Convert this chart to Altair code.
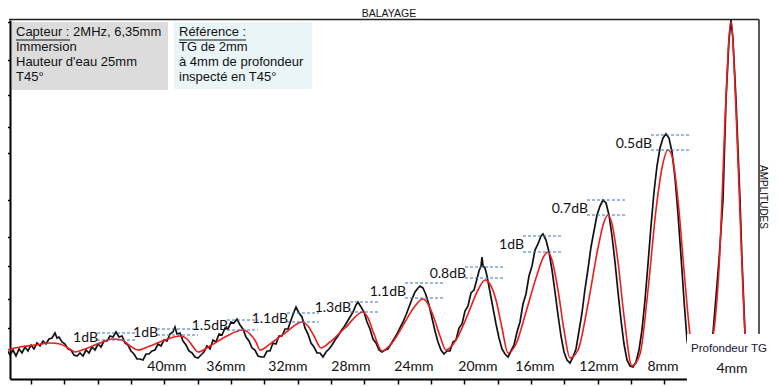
import altair as alt
import pandas as pd

# ---------------- data ----------------
# scan position (arbitrary units along the sweep) , amplitude (arbitrary units)
black_trace = [
    (7, 29), (10, 24), (13, 29), (16, 23), (19, 30), (22, 26), (25, 32), (28, 28), (31, 34), (34, 30),
    (37, 36), (40, 33), (43, 38), (46, 35), (49, 40), (52, 41), (55, 46), (57, 41), (59, 42), (62, 37),
    (65, 35), (68, 30), (71, 29), (74, 24), (77, 23), (80, 26), (83, 23), (86, 29), (89, 26), (92, 32),
    (95, 29), (98, 35), (101, 32), (104, 38), (107, 38), (110, 43), (113, 42), (116, 47), (119, 42), (122, 43),
    (125, 36), (128, 34), (131, 28), (134, 25), (137, 20), (140, 20), (143, 19), (146, 25), (149, 25), (152, 28),
    (155, 29), (158, 35), (161, 33), (164, 39), (167, 38), (170, 45), (173, 47), (175, 52), (177, 45), (180, 46),
    (183, 38), (186, 34), (189, 28), (192, 26), (195, 22), (198, 21), (201, 24), (204, 27), (207, 33), (210, 30),
    (213, 39), (216, 37), (219, 45), (222, 44), (225, 51), (228, 50), (231, 57), (234, 56), (237, 60), (240, 54),
    (243, 50), (246, 42), (249, 38), (252, 31), (255, 29), (258, 23), (261, 22), (264, 22), (267, 28), (270, 28),
    (273, 36), (276, 35), (279, 43), (282, 43), (285, 50), (288, 50), (291, 59), (294, 67), (296, 72), (299, 66),
    (302, 62), (305, 51), (308, 45), (311, 36), (314, 32), (317, 26), (320, 26), (323, 22), (326, 27), (329, 30),
    (332, 34), (335, 39), (338, 43), (341, 48), (344, 52), (347, 57), (350, 62), (353, 67), (356, 74), (358, 77),
    (361, 72), (364, 67), (367, 57), (370, 50), (373, 40), (376, 36), (379, 29), (382, 27), (385, 29), (388, 30),
    (391, 35), (394, 40), (397, 45), (400, 51), (403, 57), (406, 64), (409, 72), (412, 80), (415, 87), (418, 91),
    (420, 93), (423, 91), (426, 84), (429, 74), (432, 61), (435, 48), (438, 37), (441, 29), (444, 25), (447, 28),
    (450, 28), (453, 37), (456, 39), (459, 51), (462, 55), (465, 68), (468, 73), (471, 86), (474, 89), (477, 100),
    (479, 108), (481, 113), (482, 122), (483, 113), (485, 111), (487, 103), (490, 87), (493, 71), (496, 55), (499, 41),
    (502, 30), (505, 25), (508, 22), (511, 28), (514, 34), (517, 47), (520, 57), (523, 75), (526, 85), (529, 103),
    (532, 113), (535, 129), (538, 135), (541, 143), (543, 145), (546, 139), (549, 127), (552, 109), (555, 87), (558, 64),
    (561, 43), (564, 27), (567, 19), (570, 16), (573, 22), (576, 30), (579, 48), (582, 66), (585, 90), (588, 110),
    (591, 132), (594, 148), (597, 164), (600, 173), (603, 179), (606, 176), (609, 164), (612, 143), (615, 117), (618, 87),
    (621, 59), (624, 35), (627, 19), (630, 13), (633, 12), (636, 17), (639, 29), (642, 49), (645, 79), (648, 115),
    (651, 153), (654, 187), (657, 213), (660, 231), (663, 241), (666, 245), (669, 241), (672, 227), (675, 201), (678, 165),
    (681, 123), (684, 79), (687, 39), (690, 21), (695, 9), (700, 7), (705, 17), (710, 34), (713, 46), (719, 119),
    (723, 179), (726, 279), (729, 339), (731, 359), (733, 339), (736, 279), (740, 179), (742, 119), (745, 46), (748, 21),
    (752, 7),
]

red_trace = [
    (7, 29), (20, 32), (35, 34), (50, 36), (60, 35), (68, 31), (75, 27), (85, 30), (100, 36), (112, 40),
    (122, 39), (130, 33), (138, 29), (150, 33), (165, 39), (180, 43), (188, 39), (194, 31), (198, 27), (210, 33),
    (225, 42), (243, 49), (250, 45), (256, 37), (260, 29), (270, 35), (285, 46), (302, 57), (308, 53), (314, 43),
    (321, 31), (330, 37), (345, 51), (363, 67), (368, 61), (374, 45), (382, 28), (392, 36), (405, 57), (415, 73),
    (423, 80), (428, 75), (434, 61), (440, 43), (446, 29), (456, 39), (468, 65), (478, 89), (485, 99), (490, 95),
    (496, 79), (502, 51), (508, 26), (516, 35), (526, 67), (536, 101), (544, 123), (548, 127), (552, 119), (558, 89),
    (564, 49), (570, 21), (578, 29), (588, 75), (598, 131), (604, 157), (608, 164), (612, 155), (618, 117), (624, 63),
    (632, 13), (640, 25), (648, 89), (656, 169), (662, 211), (668, 229), (672, 223), (678, 179), (684, 109), (690, 44),
    (695, 13), (700, 7), (706, 17), (711, 34), (714, 49), (720, 129), (725, 259), (731, 357), (736, 269), (741, 139),
    (745, 46), (748, 21), (752, 7),
]

# dB gap annotations: label, dashed-line start, dashed-line end, black peak, red peak
db_labels = ["1dB", "1dB", "1.5dB", "1.1dB", "1.3dB", "1.1dB", "0.8dB", "1dB", "0.7dB", "0.5dB"]
db_x1 = [97, 157, 227, 287, 350, 405, 465, 523, 587, 651]
db_x2 = [137, 198, 258, 319, 380, 443, 503, 563, 626, 690]
db_black = [46, 50, 59, 66, 77, 96, 112, 143, 179, 244]
db_red = [39, 44, 49, 57, 67, 81, 101, 127, 164, 229]

depth_labels = ["40mm", "36mm", "32mm", "28mm", "24mm", "20mm", "16mm", "12mm", "8mm"]
depth_pos = [167, 226, 288, 351, 414, 478, 535, 599, 663]
depth_amp = 12

x_ticks = [31, 64, 98, 131, 164, 198, 231, 264, 298, 331, 364, 398, 431, 464, 498, 531, 564, 598, 631, 664]
y_ticks = [357, 319, 284, 252, 226, 179, 142, 113, 80, 51]

capteur_lines = ["Capteur : 2MHz, 6,35mm", "Immersion", "Hauteur d'eau 25mm", "T45°"]
reference_lines = ["Référence :", "TG de 2mm", "à 4mm de profondeur", "inspecté en T45°"]

# ---------------- layout ----------------
W, H = 749, 359
ARIAL = "Liberation Sans"
CAL = "Lato"

black_df = pd.DataFrame(black_trace, columns=["pos", "amp"])
red_df = pd.DataFrame(red_trace, columns=["pos", "amp"])
dash_df = pd.DataFrame({
    "x1": db_x1 + db_x1,
    "x2": db_x2 + db_x2,
    "amp": db_black + db_red,
})
lab_df = pd.DataFrame({
    "x1": db_x1,
    "amp": [(b + r) / 2 - 1 for b, r in zip(db_black, db_red)],
    "label": db_labels,
})
depth_df = pd.DataFrame({"pos": depth_pos, "amp": [depth_amp] * len(depth_pos), "label": depth_labels})

xs = alt.Scale(domain=[10, 759], nice=False, zero=False)
ys = alt.Scale(domain=[0, 359], nice=False, zero=False)
x_axis = alt.Axis(values=x_ticks, labels=False, ticks=True, tickSize=5, title=None, grid=False)
y_axis = alt.Axis(values=y_ticks, labels=False, ticks=True, tickSize=3, title=None, grid=False)


def X(field):
    return alt.X(field, type="quantitative", scale=xs, axis=x_axis)


def Y(field):
    return alt.Y(field, type="quantitative", scale=ys, axis=y_axis)


one = pd.DataFrame({"k": [0]})

black = alt.Chart(black_df).mark_line(color="#111111", strokeWidth=1.7).encode(
    x=X("pos"), y=Y("amp"), order="pos:Q")
red = alt.Chart(red_df).mark_line(color="#ee1c1c", strokeWidth=1.6, interpolate="monotone").encode(
    x=X("pos"), y=Y("amp"), order="pos:Q")

dashes = alt.Chart(dash_df).mark_rule(color="#3a73c4", strokeWidth=1, strokeDash=[3, 2]).encode(
    x=X("x1"), x2="x2:Q", y=Y("amp"))
dlabels = alt.Chart(lab_df).mark_text(align="right", baseline="middle", font=CAL, fontSize=14,
                                      color="#111111", dx=1).encode(
    x=X("x1"), y=Y("amp"), text="label:N")
dep = alt.Chart(depth_df).mark_text(align="center", baseline="middle", font=CAL, fontSize=14,
                                    color="#111111").encode(
    x=X("pos"), y=Y("amp"), text="label:N")


def deco_rect(x0, x1, y0, y1, fill):
    return alt.Chart(one).mark_rect(color=fill).encode(
        x=alt.value(x0), x2=alt.value(x1), y=alt.value(y0), y2=alt.value(y1))


def deco_rule(x0, x1, y0, y1, width=1.5, color="#222222"):
    return alt.Chart(one).mark_rule(color=color, strokeWidth=width).encode(
        x=alt.value(x0), x2=alt.value(x1), y=alt.value(y0), y2=alt.value(y1))


def deco_text(txt, x, y, size=12, font=ARIAL, align="left", angle=0, color="#111111", baseline="middle"):
    kw = dict(text=txt, align=align, baseline=baseline, font=font, fontSize=size, color=color)
    if angle:
        kw["angle"] = angle
    return alt.Chart(one).mark_text(**kw).encode(x=alt.value(x), y=alt.value(y))


white_box = deco_rect(677, 760, 314, 372, "white")
frame_top = deco_rule(-1, W, -0.5, -0.5, 1.5)
frame_right = deco_rule(W, W, -0.5, 314, 1.5)

gray_box = deco_rect(2, 158, 2, 70, "#dcdcdc")
blue_box = deco_rect(164, 302, 2, 69, "#eaf5f7")

texts = []
for i, t in enumerate(capteur_lines):
    texts.append(deco_text(t, 6, 12 + 15 * i, size=13))
for i, t in enumerate(reference_lines):
    texts.append(deco_text(t, 169, 12 + 15 * i, size=13))
underline1 = deco_rule(6, 60, 20, 20, 1, "#111111")
underline2 = deco_rule(169, 236, 20, 20, 1, "#111111")

title = deco_text("BALAYAGE", 379, -11.5, size=10.5, align="center", baseline="top")
ampl = deco_text("AMPLITUDES", 753, 177, size=10, align="center", angle=90)
prof = deco_text("Profondeur TG", 719, 329, size=11.5, align="center", color="#141432")
mm4 = deco_text("4mm", 722, 349, size=14, font=CAL, align="center")

chart = alt.layer(
    black, red, dashes, white_box, frame_top, frame_right,
    gray_box, blue_box, *texts, underline1, underline2,
    dlabels, dep, title, ampl, prof, mm4,
).properties(
    width=W, height=H,
    autosize=alt.AutoSizeParams(type="none"),
    padding={"left": 2, "top": 12, "right": 11, "bottom": 8},
    background="white",
).configure_view(stroke=None).configure_axis(
    domainColor="#000000", domainWidth=2, tickColor="#000000", tickWidth=1.5,
)

chart.save("out.html", embed_options={"renderer": "svg", "actions": False})
